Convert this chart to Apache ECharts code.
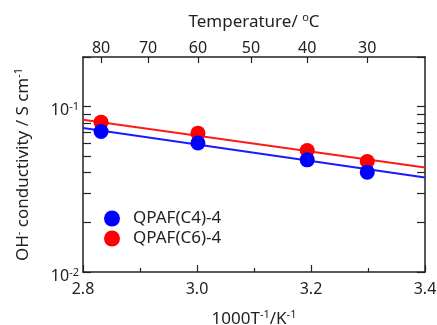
<!DOCTYPE html>
<html>
<head>
<meta charset="utf-8">
<script src="https://cdn.jsdelivr.net/npm/echarts@6/dist/echarts.min.js"></script>
<style>
html, body { margin: 0; padding: 0; background: #fff; }
#chart { width: 437px; height: 325px; }
</style>
</head>
<body>
<div id="chart"></div>
<script>
// temperatures for the top axis and for the measured points
const tempTicksC = [80, 70, 60, 50, 40, 30];
const pointTempsC = [80, 60, 40, 30];

// conductivity, S/cm
const c4Values = [0.0708, 0.0603, 0.0477, 0.0402];
const c6Values = [0.0807, 0.0692, 0.0543, 0.0466];

// fit lines across the full x range
const fitX = [2.8, 3.4];
const c4Fit = [0.0743, 0.0373];
const c6Fit = [0.0834, 0.0429];

const yTicks = [0.01, 0.02, 0.03, 0.04, 0.05, 0.06, 0.07, 0.08, 0.09, 0.1, 0.2];
const yLabels = [0.01, 0.1];

const toInvT = t => 1000 / (t + 273.15);
const FONT = 'Noto Sans';
// superscript: small text pinned to the top of the line box
const sup = { fontSize: 11, lineHeight: 11, fontFamily: FONT, verticalAlign: 'top', color: '#222' };

const chart = echarts.init(document.getElementById('chart'));

const axisLine = { show: true, onZero: false, lineStyle: { color: '#222', width: 1.5 } };

const option = {
    animation: false,
    grid: { left: 83, right: 12, top: 57, bottom: 53, containLabel: false, outerBoundsMode: 'none' },
    legend: {
        data: ['QPAF(C4)-4', 'QPAF(C6)-4'],
        orient: 'vertical',
        left: 99,
        top: 205,
        itemWidth: 16,
        itemHeight: 16,
        itemGap: 3,
        textStyle: { fontFamily: FONT, fontSize: 17, color: '#222', padding: [0, 0, 0, 8] }
    },
    xAxis: [{
        type: 'value',
        min: 2.8,
        max: 3.4,
        interval: 0.2,
        position: 'bottom',
        axisLine: axisLine,
        axisTick: { inside: true, length: 7, lineStyle: { color: '#222', width: 1.2 } },
        minorTick: { show: true, splitNumber: 2, length: 4, lineStyle: { color: '#222', width: 1.2 } },
        splitLine: { show: false },
        axisLabel: {
            margin: 9,
            fontFamily: FONT, fontSize: 16, color: '#222',
            formatter: v => v.toFixed(1)
        },
        name: '1000T{s|-1}/K{s|-1}',
        nameLocation: 'middle',
        nameGap: 37,
        nameTextStyle: { fontFamily: FONT, fontSize: 17, lineHeight: 20, color: '#222', rich: { s: sup } }
    }, {
        type: 'value',
        min: 2.8,
        max: 3.4,
        position: 'top',
        axisLine: axisLine,
        axisTick: { inside: true, length: 6, customValues: tempTicksC.map(toInvT), lineStyle: { color: '#222', width: 1.2 } },
        splitLine: { show: false },
        axisLabel: {
            margin: 1,
            customValues: tempTicksC.map(toInvT),
            fontFamily: FONT, fontSize: 16, color: '#222',
            formatter: v => String(Math.round(1000 / v - 273.15))
        },
        name: 'Temperature/ {s|o}C',
        nameLocation: 'middle',
        nameGap: 25,
        nameTextStyle: { fontFamily: FONT, fontSize: 17, lineHeight: 20, color: '#222', rich: { s: sup } }
    }],
    yAxis: [{
        type: 'log',
        min: 0.01,
        max: 0.2,
        position: 'left',
        axisLine: axisLine,
        axisTick: { inside: true, length: 8, customValues: yTicks, lineStyle: { color: '#222', width: 1.2 } },
        splitLine: { show: false },
        axisLabel: {
            margin: 4,
            padding: [8, 0, 0, 0],
            customValues: yLabels,
            fontFamily: FONT, fontSize: 16, lineHeight: 18, color: '#222',
            formatter: v => '10{s|' + Math.round(Math.log10(v)) + '}',
            rich: { s: sup }
        },
        name: 'OH{s|-} conductivity / S cm{s|-1}',
        nameLocation: 'middle',
        nameGap: 50,
        nameTextStyle: { fontFamily: FONT, fontSize: 17, lineHeight: 20, color: '#222', rich: { s: sup } }
    }, {
        type: 'log',
        min: 0.01,
        max: 0.2,
        position: 'right',
        axisLine: axisLine,
        axisTick: { inside: true, length: 8, customValues: yTicks, lineStyle: { color: '#222', width: 1.2 } },
        splitLine: { show: false },
        axisLabel: { show: false }
    }],
    series: [{
        name: 'fitC6',
        type: 'line',
        data: fitX.map((x, i) => [x, c6Fit[i]]),
        symbol: 'none',
        lineStyle: { color: '#ff1a1a', width: 2 },
        z: 1
    }, {
        name: 'fitC4',
        type: 'line',
        data: fitX.map((x, i) => [x, c4Fit[i]]),
        symbol: 'none',
        lineStyle: { color: '#1a1aff', width: 2 },
        z: 1
    }, {
        name: 'QPAF(C6)-4',
        type: 'scatter',
        data: pointTempsC.map((t, i) => [toInvT(t), c6Values[i]]),
        symbol: 'circle',
        symbolSize: 15,
        itemStyle: { color: '#ff0000', opacity: 1 },
        z: 3
    }, {
        name: 'QPAF(C4)-4',
        type: 'scatter',
        data: pointTempsC.map((t, i) => [toInvT(t), c4Values[i]]),
        symbol: 'circle',
        symbolSize: 15,
        itemStyle: { color: '#0000ff', opacity: 1 },
        z: 4
    }]
};

chart.setOption(option);
</script>
</body>
</html>
